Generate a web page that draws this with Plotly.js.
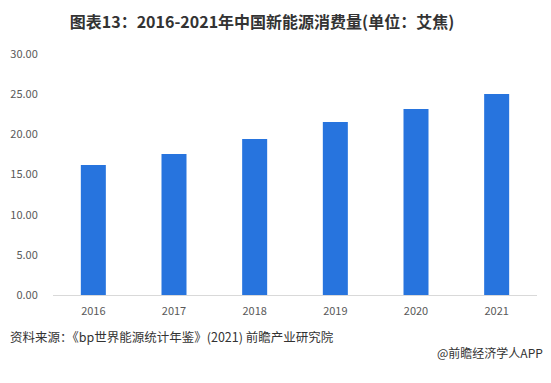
<!DOCTYPE html>
<html><head><meta charset="utf-8">
<script src="https://cdn.plot.ly/plotly-3.0.1.min.js"></script>
<style>html,body{margin:0;padding:0;background:#fff}</style>
</head><body>
<div id="chart" style="width:551px;height:383px"></div>
<script>
const years = ['2016','2017','2018','2019','2020','2021'];
const consumption = [16.19, 17.56, 19.43, 21.54, 23.16, 25.03];
const yTicks = [0, 5, 10, 15, 20, 25, 30];
const titleText = '图表13：2016-2021年中国新能源消费量(单位：艾焦)';
const sourceText = '资料来源：《bp世界能源统计年鉴》(2021) 前瞻产业研究院';
const brandText = '@前瞻经济学人APP';

const font = '"Noto Sans CJK SC", "Microsoft YaHei", sans-serif';
Plotly.newPlot('chart', [{
  type: 'bar', x: years, y: consumption,
  marker: {color: '#2774DE'}, width: 0.31, hoverinfo: 'none'
}], {
  width: 551, height: 383,
  margin: {l: 53, r: 14, t: 54, b: 88},
  paper_bgcolor: '#fff', plot_bgcolor: '#fff',
  font: {family: font, color: '#595959', size: 11},
  title: {text: '<b>' + titleText + '</b>', x: 262/551, xanchor: 'center', y: 1 - 22/383, yanchor: 'middle', yref: 'container',
    font: {family: font, size: 16, color: '#333333'}},
  xaxis: {type: 'category', showgrid: false, showline: true, linecolor: '#d9d9d9', linewidth: 1,
    ticks: 'outside', ticklen: 6, tickcolor: 'rgba(0,0,0,0)', tickfont: {size: 11, color: '#595959'}, fixedrange: true},
  yaxis: {range: [0, 30], tickvals: yTicks, tickformat: '.2f', showgrid: false, zeroline: false,
    showline: false, ticks: 'outside', ticklen: 12, tickcolor: 'rgba(0,0,0,0)',
    tickfont: {size: 11, color: '#595959'}, fixedrange: true},
  showlegend: false,
  annotations: [
    {text: sourceText, xref: 'paper', yref: 'paper', x: -45/484, y: -(336-295)/241, xanchor: 'left', yanchor: 'middle',
     showarrow: false, font: {size: 12.5, color: '#333333', family: font}},
    {text: brandText, xref: 'paper', yref: 'paper', x: (545-53)/484, y: -(352-295)/241, xanchor: 'right', yanchor: 'middle',
     showarrow: false, font: {size: 12, color: '#333333', family: font}}
  ]
}, {displayModeBar: false, staticPlot: true});
</script>
</body></html>
